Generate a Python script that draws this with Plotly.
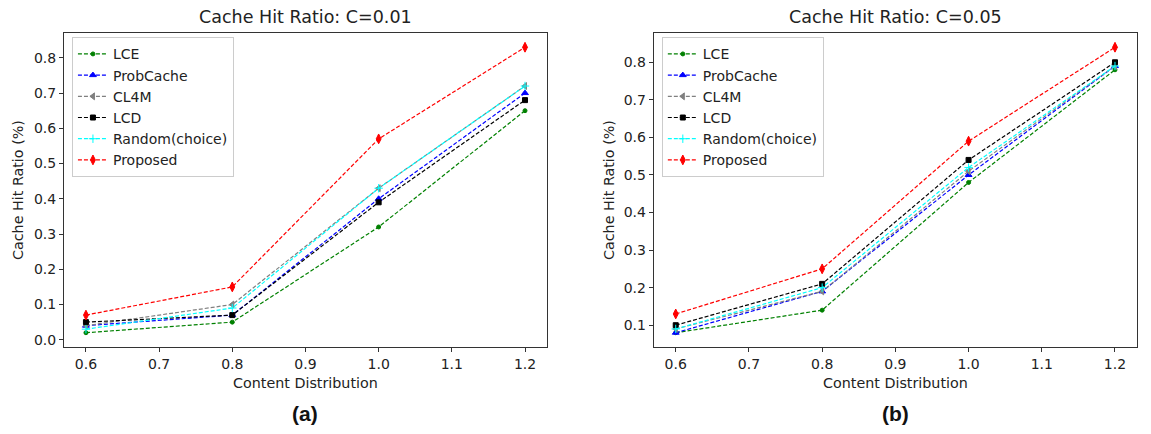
import plotly.graph_objects as go

# Content distribution parameter (x-axis)
content_dist = [0.6, 0.8, 1.0, 1.2]

series_names = ["LCE", "ProbCache", "CL4M", "LCD", "Random(choice)", "Proposed"]

# Cache hit ratio, C = 0.01
c001_lce = [0.02, 0.05, 0.32, 0.65]
c001_probcache = [0.04, 0.07, 0.40, 0.70]
c001_cl4m = [0.04, 0.10, 0.43, 0.72]
c001_lcd = [0.05, 0.07, 0.39, 0.68]
c001_random = [0.03, 0.09, 0.43, 0.72]
c001_proposed = [0.07, 0.15, 0.57, 0.83]

# Cache hit ratio, C = 0.05
c005_lce = [0.08, 0.14, 0.48, 0.78]
c005_probcache = [0.08, 0.19, 0.50, 0.79]
c005_cl4m = [0.09, 0.19, 0.51, 0.79]
c005_lcd = [0.10, 0.21, 0.54, 0.80]
c005_random = [0.09, 0.20, 0.52, 0.79]
c005_proposed = [0.13, 0.25, 0.59, 0.84]

styles = [
    dict(color="green", symbol="circle", size=4),
    dict(color="blue", symbol="triangle-up", size=6),
    dict(color="gray", symbol="triangle-left", size=6),
    dict(color="black", symbol="square", size=5),
    dict(color="cyan", symbol="cross-thin", size=6),
    dict(color="red", symbol="diamond-tall", size=7),
]

panels = [
    ("x", "y", "legend", [c001_lce, c001_probcache, c001_cl4m, c001_lcd, c001_random, c001_proposed]),
    ("x2", "y2", "legend2", [c005_lce, c005_probcache, c005_cl4m, c005_lcd, c005_random, c005_proposed]),
]

fig = go.Figure()
for xa, ya, leg, data in panels:
    for name, vals, st in zip(series_names, data, styles):
        fig.add_trace(go.Scatter(
            x=content_dist, y=vals, name=name, mode="lines+markers",
            xaxis=xa, yaxis=ya, legend=leg,
            line=dict(color=st["color"], width=1.2, dash="4px,2px"),
            marker=dict(color=st["color"], symbol=st["symbol"], size=st["size"],
                        line=dict(color=st["color"], width=1)),
        ))

font = "DejaVu Sans, Verdana, sans-serif"
axis_common = dict(
    showline=True, mirror=True, linecolor="#333333", linewidth=1,
    ticks="outside", ticklen=4, tickcolor="#333333", showgrid=False, zeroline=False,
    tickfont=dict(family=font, size=14, color="#222222"),
)

legend_common = dict(
    xanchor="left", yanchor="top", bgcolor="white", bordercolor="#cccccc", borderwidth=1,
    font=dict(family=font, size=14, color="#222222"), tracegroupgap=0,
)

fig.update_layout(
    width=1151, height=434,
    margin=dict(l=0, r=0, t=0, b=0),
    paper_bgcolor="white", plot_bgcolor="white",
    font=dict(family=font, size=14, color="#222222"),
    xaxis=dict(domain=[0.0556, 0.4752], range=[0.57, 1.23], dtick=0.1, tickformat=".1f",
               anchor="y", **axis_common),
    yaxis=dict(domain=[0.2005, 0.924], range=[-0.0205, 0.8705], dtick=0.1, tickformat=".1f",
               anchor="x", **axis_common),
    xaxis2=dict(domain=[0.568, 0.9878], range=[0.57, 1.23], dtick=0.1, tickformat=".1f",
                anchor="y2", **axis_common),
    yaxis2=dict(domain=[0.2005, 0.924], range=[0.042, 0.878], dtick=0.1, tickformat=".1f",
                anchor="x2", **axis_common),
    legend=dict(x=0.0625, y=0.914, **legend_common),
    legend2=dict(x=0.575, y=0.914, **legend_common),
    showlegend=True,
)

annotations = [
    dict(text="Cache Hit Ratio: C=0.01", x=0.2654, y=1 - 17 / 434, size=17.5),
    dict(text="Cache Hit Ratio: C=0.05", x=0.7779, y=1 - 17 / 434, size=17.5),
    dict(text="Content Distribution", x=0.2654, y=1 - 383 / 434, size=14.3),
    dict(text="Content Distribution", x=0.7779, y=1 - 383 / 434, size=14.3),
]
for a in annotations:
    fig.add_annotation(text=a["text"], x=a["x"], y=a["y"], xref="paper", yref="paper",
                       showarrow=False, xanchor="center", yanchor="middle",
                       font=dict(family=font, size=a["size"], color="#222222"))

for txt, xpos in [("Cache Hit Ratio (%)", 18 / 1151), ("Cache Hit Ratio (%)", 609 / 1151)]:
    fig.add_annotation(text=txt, x=xpos, y=1 - 190 / 434, xref="paper", yref="paper",
                       showarrow=False, textangle=-90, xanchor="center", yanchor="middle",
                       font=dict(family=font, size=14.3, color="#222222"))

for txt, xpos in [("<b>(a)</b>", 0.2654), ("<b>(b)</b>", 0.7779)]:
    fig.add_annotation(text=txt, x=xpos, y=1 - 413 / 434, xref="paper", yref="paper",
                       showarrow=False, xanchor="center", yanchor="middle",
                       font=dict(family="Liberation Sans, Arial, sans-serif", size=21, color="#111111"))

fig.write_html("out.html")
